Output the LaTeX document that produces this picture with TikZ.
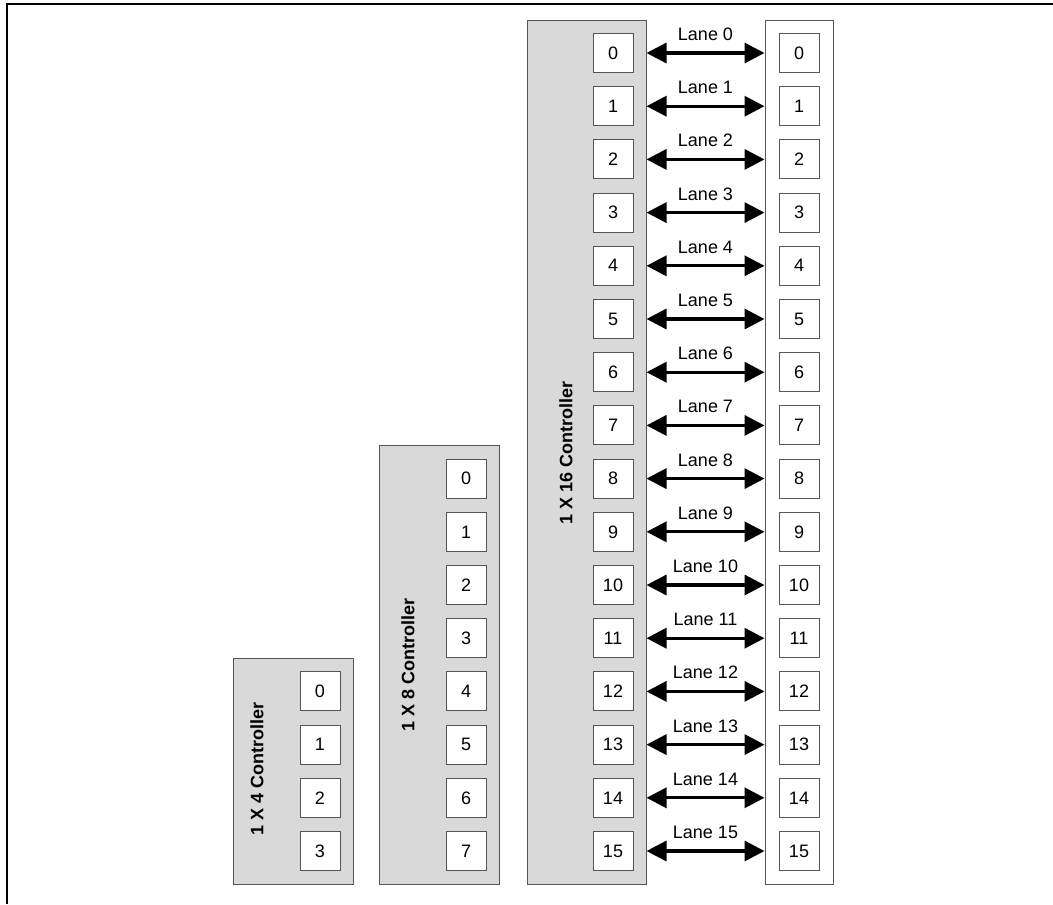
\documentclass[tikz,border=0pt]{standalone}
\usepackage{fontspec}
\setmainfont{Liberation Sans}
\usetikzlibrary{arrows.meta,positioning}
\definecolor{boxline}{RGB}{85,85,85}
\definecolor{ctrlgray}{RGB}{217,217,217}

\begin{document}
\begin{tikzpicture}[x=0.75pt,y=0.75pt,yscale=-1,xscale=1,
	ctrl/.style={draw=boxline, fill=ctrlgray, line width=0.75pt, inner sep=0pt},
	lanebox/.style={draw=boxline, fill=white, line width=0.75pt, inner sep=0pt, minimum width=30pt, minimum height=29.25pt, font=\fontsize{13.5}{16}\selectfont},
	ctrltext/.style={rotate=90, font=\fontsize{13.5}{16}\selectfont\bfseries},
	lanearrow/.style={{Triangle[length=15pt,width=15pt]}-{Triangle[length=15pt,width=15pt]}, line width=2.5pt},
	lanetext/.style={font=\fontsize{13.5}{16}\selectfont, inner sep=0pt}]
	\useasboundingbox (0,0) rectangle (1053,904);
	\draw [line width=1.5pt] (1053,4) -- (7,4) -- (7,904);
	% controllers and link partner
	\node [ctrl, minimum width=90pt, minimum height=169.5pt] (c4) at (293,771) {};
	\node [ctrl, minimum width=90pt, minimum height=329.25pt] (c8) at (439,664.5) {};
	\node [ctrl, minimum width=89.25pt, minimum height=648pt] (c16) at (586.5,452) {};
	\node [ctrl, fill=white, minimum width=51pt, minimum height=648pt] (dev) at (799,452) {};
	\node [ctrltext] (t4) at (257,769) {1 X 4 Controller};
	\node [ctrltext] (t8) at (408,664.5) {1 X 8 Controller};
	\node [ctrltext] (t16) at (566,453) {1 X 16 Controller};
	% lanes
	\foreach \k in {0,...,3}
		\node [lanebox] (p4-\k) at (320,{53+53.2*(\k+12)}) {\k};
	\foreach \k in {0,...,7}
		\node [lanebox] (p8-\k) at (466,{53+53.2*(\k+8)}) {\k};
	\foreach \k in {0,...,15} {
		\node [lanebox] (p16-\k) at (613,{53+53.2*\k}) {\k};
		\node [lanebox] (d\k) at (799,{53+53.2*\k}) {\k};
		\draw [lanearrow] (c16.east |- p16-\k) -- (dev.west |- d\k) node [lanetext, midway, above=8pt] {Lane \k};
	}
\end{tikzpicture}
\end{document}
